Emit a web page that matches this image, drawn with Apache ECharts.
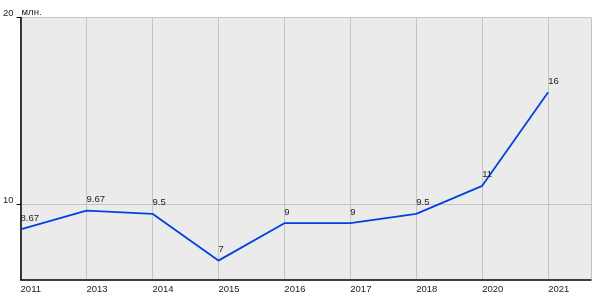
<!DOCTYPE html>
<html><head><meta charset="utf-8">
<script src="https://cdn.jsdelivr.net/npm/echarts@6/dist/echarts.min.js"></script>
<style>html,body{margin:0;padding:0;background:#fff}#c{width:600px;height:300px}</style>
</head><body><div id="c"></div>
<script>
const categories = ['2011','2013','2014','2015','2016','2017','2018','2020','2021'];
const values = [8.67, 9.67, 9.5, 7, 9, 9, 9.5, 11, 16];
const valueLabels = ['8.67','9.67','9.5','7','9','9','9.5','11','16'];
const yTicks = [10, 20];
const unitLabel = 'млн.';

const chart = echarts.init(document.getElementById('c'), null, {renderer:'canvas'});
const font = 'Liberation Sans, Arial, sans-serif';
chart.setOption({
  animation: false,
  grid: {left: 20, top: 17.5, right: 9, bottom: 20.7, show: true, backgroundColor: '#ebebeb', borderWidth: 0},
  xAxis: {
    type: 'value', min: 0, max: 8.65, interval: 1,
    axisLine: {show: true, onZero: false, lineStyle: {color: '#000', width: 1.5}},
    axisTick: {show: false},
    splitLine: {show: true, lineStyle: {color: '#c4c4c4', width: 1}},
    axisLabel: {
      color: '#222', fontSize: 9.5, fontFamily: font, align: 'left', margin: 5,
      showMaxLabel: false,
      formatter: v => (Number.isInteger(v) && categories[v] !== undefined) ? categories[v] : ''
    }
  },
  yAxis: {
    type: 'value', min: 6, max: 20,
    name: unitLabel, nameLocation: 'end', nameGap: 0,
    nameTextStyle: {color: '#222', fontSize: 9.5, fontFamily: font, align: 'left', verticalAlign: 'bottom', padding: [0,0,0,1]},
    axisLine: {show: true, lineStyle: {color: '#000', width: 1.5}},
    axisTick: {show: true, length: 4, customValues: yTicks, lineStyle: {color: '#000'}},
    splitLine: {show: true, lineStyle: {color: '#c4c4c4', width: 1}},
    axisLabel: {color: '#222', fontSize: 9.5, fontFamily: font, margin: 7, verticalAlign: 'bottom', lineHeight: 9, customValues: yTicks}
  },
  series: [{
    type: 'line',
    data: values.map((v, i) => [i, v]),
    symbol: 'circle',
    symbolSize: 0.01,
    showSymbol: true,
    itemStyle: {color: '#0042e0'},
    lineStyle: {color: '#0042e0', width: 1.8},
    label: {
      show: true, position: 'top', distance: 6, align: 'left',
      color: '#222', fontSize: 9.5, fontFamily: font,
      formatter: p => valueLabels[p.dataIndex]
    }
  }]
});
</script></body></html>
